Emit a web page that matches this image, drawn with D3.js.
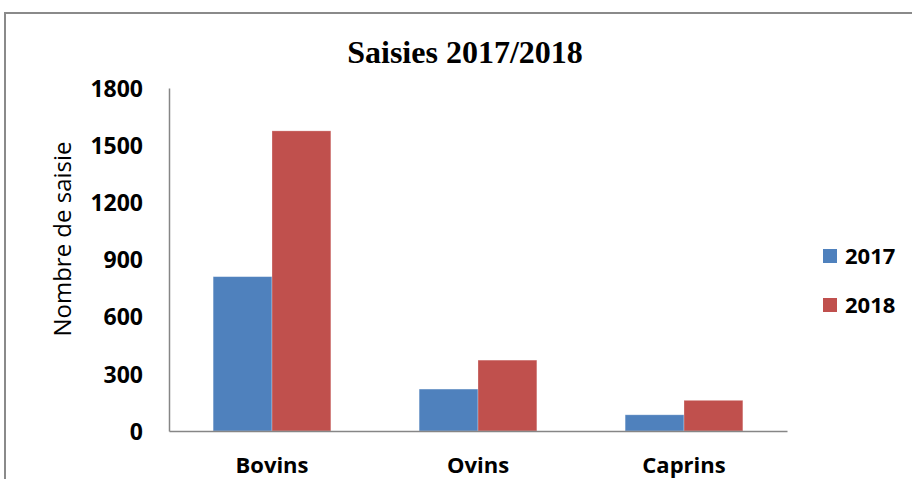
<!DOCTYPE html>
<html><head><meta charset="utf-8">
<script src="https://cdn.jsdelivr.net/npm/d3@7"></script>
<style>body{margin:0;background:#fff}svg{display:block}</style>
</head><body>
<script>
const categories = ["Bovins", "Ovins", "Caprins"];
const seriesNames = ["2017", "2018"];
const values2017 = [810, 220, 85];
const values2018 = [1575, 372, 161];
const yTicks = [0, 300, 600, 900, 1200, 1500, 1800];
const colors = ["#4F81BD", "#C0504D"];

const W = 912, H = 479;
const svg = d3.select("body").append("svg").attr("width", W).attr("height", H);

// outer chart border
svg.append("rect").attr("x", 5).attr("y", 13).attr("width", 920).attr("height", 480)
  .attr("fill", "none").attr("stroke", "#8a8a8a").attr("stroke-width", 2);

const x0 = d3.scaleBand().domain(categories).range([169, 787]).paddingInner(0).paddingOuter(0);
const x1 = d3.scaleBand().domain(seriesNames).range([0, x0.bandwidth()]).paddingInner(0).paddingOuter(0.75);
const y = d3.scaleLinear().domain([0, 1800]).range([431, 88]);

const font = "'Open Sans', 'Liberation Sans', sans-serif";

// bars
const data = categories.map((c, i) => ({c, v: [values2017[i], values2018[i]]}));
const g = svg.append("g");
data.forEach(d => {
  d.v.forEach((v, j) => {
    g.append("rect")
      .attr("x", x0(d.c) + x1(seriesNames[j]))
      .attr("y", y(v))
      .attr("width", x1.bandwidth())
      .attr("height", y(0) - y(v))
      .attr("fill", colors[j])
      .attr("stroke", "rgba(255,255,255,0.35)").attr("stroke-width", 0.8);
  });
});

// y axis
const yAxis = svg.append("g").attr("transform", "translate(169,0)")
  .call(d3.axisLeft(y).tickValues(yTicks).tickFormat(d3.format("d")).tickSize(0).tickPadding(26));
yAxis.select(".domain").attr("stroke", "#868686").attr("stroke-width", 1.5);
yAxis.selectAll("text").attr("font-family", font).attr("font-weight", "bold")
  .attr("font-size", 23).attr("fill", "#000").attr("dy", "0.36em");

// x axis
const xAxis = svg.append("g").attr("transform", "translate(0,431)")
  .call(d3.axisBottom(x0).tickSize(0).tickPadding(0));
xAxis.select(".domain").attr("stroke", "#868686").attr("stroke-width", 1.5);
xAxis.selectAll("text").attr("font-family", font).attr("font-weight", "bold")
  .attr("font-size", 22).attr("fill", "#000").attr("y", 42).attr("dy", 0);

// title
svg.append("text").attr("x", 465).attr("y", 63).attr("text-anchor", "middle")
  .attr("font-family", "'Liberation Serif', 'Times New Roman', serif")
  .attr("font-weight", "bold").attr("font-size", 32).text("Saisies 2017/2018");

// y axis title
svg.append("text").attr("transform", "translate(71,239) rotate(-90)")
  .attr("text-anchor", "middle").attr("font-family", font).attr("font-size", 24)
  .text("Nombre de saisie");

// legend
const leg = svg.append("g");
seriesNames.forEach((s, j) => {
  const yy = 249 + j * 49;
  leg.append("rect").attr("x", 823).attr("y", yy).attr("width", 14).attr("height", 14).attr("fill", colors[j]);
  leg.append("text").attr("x", 845).attr("y", yy + 15).attr("font-family", font)
    .attr("font-weight", "bold").attr("font-size", 22).text(s);
});
</script>
</body></html>
